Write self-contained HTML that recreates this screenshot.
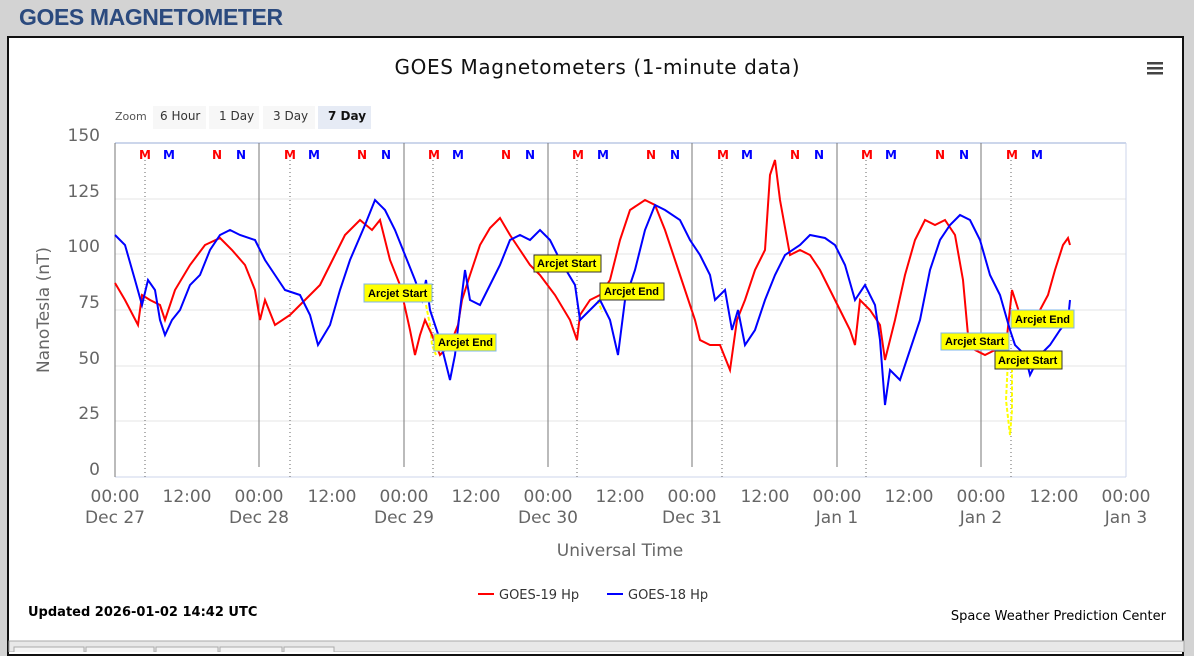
<!DOCTYPE html>
<html><head><meta charset="utf-8"><style>
body{margin:0;width:1194px;height:652px;background:#d3d3d3;font-family:"Liberation Sans",sans-serif;overflow:hidden;position:relative}
.h{position:absolute;left:19px;top:4px;font-size:23px;font-weight:bold;color:#2b4a7e;letter-spacing:-0.4px}
.box{position:absolute;left:7px;top:36px;width:1177px;height:620px;background:#fff;border:2px solid #111;box-sizing:border-box}
</style></head><body>
<div class="h">GOES MAGNETOMETER</div>
<div class="box"></div>
<svg width="1194" height="652" style="position:absolute;left:0;top:0" font-family="DejaVu Sans, Liberation Sans, sans-serif">
<text x="597" y="74" font-size="20" text-anchor="middle" fill="#111" textLength="405">GOES Magnetometers (1-minute data)</text>
<g fill="#444"><rect x="1147" y="62" width="16" height="2.5"/><rect x="1147" y="67" width="16" height="2.5"/><rect x="1147" y="72" width="16" height="2.5"/></g>
<text x="115" y="120" font-size="11" fill="#555">Zoom</text>
<rect x="153" y="106" width="53" height="23" fill="#f7f7f7"/><text x="160" y="120" font-size="12" fill="#333">6 Hour</text>
<rect x="209" y="106" width="50" height="23" fill="#f7f7f7"/><text x="219" y="120" font-size="12" fill="#333">1 Day</text>
<rect x="263" y="106" width="52" height="23" fill="#f7f7f7"/><text x="273" y="120" font-size="12" fill="#333">3 Day</text>
<rect x="318" y="106" width="53" height="23" fill="#e6ebf5"/><text x="328" y="120" font-size="12" font-weight="bold" fill="#111">7 Day</text>
<g stroke="#e6e6e6"><line x1="115" x2="1126" y1="421" y2="421"/><line x1="115" x2="1126" y1="366" y2="366"/><line x1="115" x2="1126" y1="310" y2="310"/><line x1="115" x2="1126" y1="254" y2="254"/><line x1="115" x2="1126" y1="199" y2="199"/></g>
<g stroke="#ccd6eb"><line x1="115" x2="1126" y1="143" y2="143" stroke-width="2"/><line x1="115" x2="1126" y1="477" y2="477"/><line x1="1126" x2="1126" y1="143" y2="477"/></g>
<g stroke="#777"><line x1="115" x2="115" y1="143" y2="477"/><line x1="259" x2="259" y1="143" y2="467"/><line x1="404" x2="404" y1="143" y2="467"/><line x1="548" x2="548" y1="143" y2="467"/><line x1="692" x2="692" y1="143" y2="467"/><line x1="837" x2="837" y1="143" y2="467"/><line x1="981" x2="981" y1="143" y2="467"/></g>
<g stroke="#666" stroke-dasharray="1,3"><line x1="145" x2="145" y1="160" y2="477"/><line x1="290" x2="290" y1="160" y2="477"/><line x1="433" x2="433" y1="160" y2="477"/><line x1="577" x2="577" y1="160" y2="477"/><line x1="722" x2="722" y1="160" y2="477"/><line x1="866" x2="866" y1="160" y2="477"/><line x1="1011" x2="1011" y1="160" y2="477"/></g>
<g font-size="12" font-weight="bold" text-anchor="middle">
<g fill="#f00"><text x="145" y="159">M</text><text x="217" y="159">N</text><text x="290" y="159">M</text><text x="362" y="159">N</text><text x="434" y="159">M</text><text x="506" y="159">N</text><text x="578" y="159">M</text><text x="651" y="159">N</text><text x="723" y="159">M</text><text x="795" y="159">N</text><text x="867" y="159">M</text><text x="940" y="159">N</text><text x="1012" y="159">M</text></g>
<g fill="#00f"><text x="169" y="159">M</text><text x="241" y="159">N</text><text x="314" y="159">M</text><text x="386" y="159">N</text><text x="458" y="159">M</text><text x="530" y="159">N</text><text x="603" y="159">M</text><text x="675" y="159">N</text><text x="747" y="159">M</text><text x="819" y="159">N</text><text x="891" y="159">M</text><text x="964" y="159">N</text><text x="1037" y="159">M</text></g></g>
<g font-size="17" fill="#666" text-anchor="end"><text x="100" y="141">150</text><text x="100" y="197">125</text><text x="100" y="252">100</text><text x="100" y="308">75</text><text x="100" y="364">50</text><text x="100" y="419">25</text><text x="100" y="475">0</text></g>
<text transform="translate(49,310) rotate(-90)" font-size="17" fill="#666" text-anchor="middle">NanoTesla (nT)</text>
<g font-size="17" fill="#666" text-anchor="middle">
<text x="115" y="502">00:00</text><text x="187" y="502">12:00</text><text x="259" y="502">00:00</text><text x="332" y="502">12:00</text><text x="404" y="502">00:00</text><text x="476" y="502">12:00</text><text x="548" y="502">00:00</text><text x="620" y="502">12:00</text><text x="692" y="502">00:00</text><text x="765" y="502">12:00</text><text x="837" y="502">00:00</text><text x="909" y="502">12:00</text><text x="981" y="502">00:00</text><text x="1054" y="502">12:00</text><text x="1126" y="502">00:00</text>
<text x="115" y="523">Dec 27</text><text x="259" y="523">Dec 28</text><text x="404" y="523">Dec 29</text><text x="548" y="523">Dec 30</text><text x="692" y="523">Dec 31</text><text x="837" y="523">Jan 1</text><text x="981" y="523">Jan 2</text><text x="1126" y="523">Jan 3</text>
<text x="620" y="556">Universal Time</text></g>
<g fill="none" stroke="#ff0" stroke-width="2" stroke-dasharray="4,2"><polyline points="426,305 430,325 432,345 436,355"/><polyline points="598,300 602,312"/><polyline points="1008,360 1006,400 1010,435 1012,410 1012,370"/></g>
<polyline fill="none" stroke="#f00" stroke-width="2" points="115,283 125,300 138,325 142,295 150,300 160,305 165,320 175,290 190,265 205,245 220,238 232,250 245,265 255,290 260,320 265,300 275,325 290,315 305,300 320,285 330,265 345,235 360,220 372,230 380,220 390,260 400,285 410,330 415,355 420,335 425,320 432,335 440,355 450,345 458,325 462,300 470,275 480,245 490,228 500,218 510,235 520,250 530,265 540,275 555,295 570,320 577,340 580,315 590,300 600,295 610,280 620,240 630,210 645,200 655,205 665,230 675,260 685,290 695,320 700,340 710,345 720,345 730,370 737,320 745,300 755,270 765,250 770,175 775,160 780,200 790,255 800,250 810,255 820,270 830,290 840,310 850,330 855,345 860,300 870,310 880,325 885,360 895,320 905,275 915,240 925,220 935,225 945,220 955,235 963,280 968,335 975,350 985,355 995,350 1005,355 1012,290 1020,315 1030,320 1040,310 1048,295 1055,270 1063,245 1068,238 1070,245"/>
<polyline fill="none" stroke="#00f" stroke-width="2" points="115,235 125,245 135,280 142,305 148,280 155,290 160,320 165,335 172,320 180,310 190,285 200,275 210,250 220,235 230,230 240,235 255,240 265,260 275,275 285,290 300,295 310,315 318,345 330,325 340,290 350,260 365,225 375,200 385,210 395,230 405,255 415,280 422,300 426,280 430,310 440,340 450,380 455,355 460,310 465,270 470,300 480,305 490,285 500,265 510,240 520,235 530,240 540,230 550,240 560,260 575,285 580,320 590,310 600,300 610,320 618,355 625,300 635,270 645,230 655,205 665,210 680,220 690,240 700,255 710,275 715,300 725,290 732,330 738,310 745,345 755,330 765,300 775,275 785,255 800,245 810,235 825,238 835,245 845,265 855,300 865,285 875,305 880,340 885,405 890,370 900,380 910,350 920,320 930,270 940,240 950,225 960,215 970,220 980,240 990,275 1000,295 1010,330 1015,345 1025,355 1030,375 1040,355 1050,345 1060,330 1068,320 1070,300"/>
<g font-size="11" font-weight="bold" fill="#000" font-family="Liberation Sans, sans-serif">
<rect x="364" y="284" width="68" height="18" fill="#ff0" stroke="#7cb5ec"/><text x="368" y="297">Arcjet Start</text>
<rect x="434" y="334" width="62" height="17" fill="#ff0" stroke="#7cb5ec"/><text x="438" y="346">Arcjet End</text>
<rect x="534" y="255" width="67" height="17" fill="#ff0" stroke="#333"/><text x="537" y="267">Arcjet Start</text>
<rect x="600" y="283" width="64" height="17" fill="#ff0" stroke="#333"/><text x="604" y="295">Arcjet End</text>
<rect x="941" y="333" width="68" height="17" fill="#ff0" stroke="#7cb5ec"/><text x="945" y="345">Arcjet Start</text>
<rect x="995" y="351" width="67" height="18" fill="#ff0" stroke="#333"/><text x="998" y="364">Arcjet Start</text>
<rect x="1011" y="310" width="63" height="18" fill="#ff0" stroke="#7cb5ec"/><text x="1015" y="323">Arcjet End</text></g>
<line x1="478" y1="594" x2="494" y2="594" stroke="#f00" stroke-width="2"/><text x="499" y="599" font-size="13" fill="#333">GOES-19 Hp</text>
<line x1="607" y1="594" x2="623" y2="594" stroke="#00f" stroke-width="2"/><text x="628" y="599" font-size="13" fill="#333">GOES-18 Hp</text>
<text x="28" y="616" font-size="13" font-weight="bold" fill="#000">Updated 2026-01-02 14:42 UTC</text>
<text x="1166" y="620" font-size="13" fill="#000" text-anchor="end">Space Weather Prediction Center</text>
<rect x="9" y="641" width="1175" height="11" fill="#e8e8e8" stroke="#aaa"/>
<g fill="#f4f4f4" stroke="#aaa"><rect x="14" y="647" width="70" height="8"/><rect x="86" y="647" width="68" height="8"/><rect x="156" y="647" width="62" height="8"/><rect x="220" y="647" width="62" height="8"/><rect x="284" y="647" width="50" height="8"/></g>
</svg>
</body></html>
